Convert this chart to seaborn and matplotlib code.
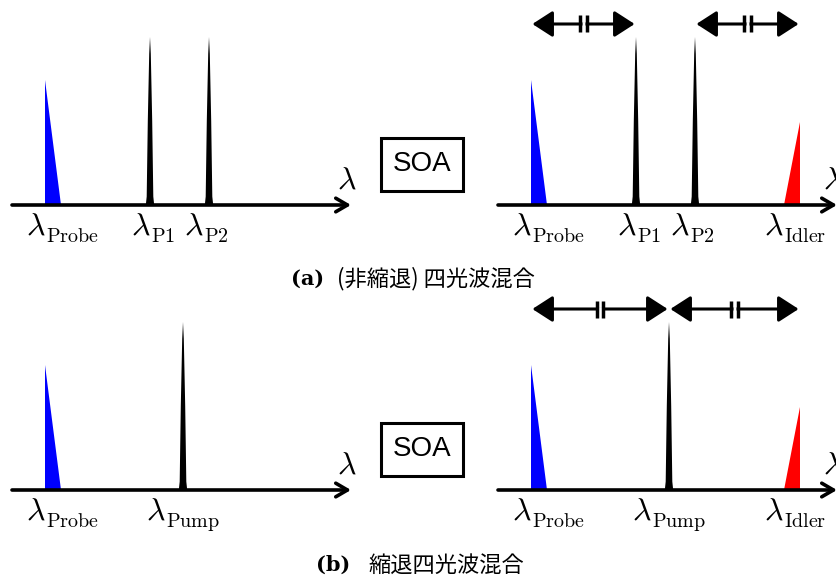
import matplotlib
matplotlib.use("Agg")
import matplotlib.pyplot as plt
import seaborn as sns

# --- spectra before / after the SOA (position on the wavelength axis, peak power) ---
fwm_in_names = ["Probe", "P1", "P2"]
fwm_in_wl = [0.33, 1.38, 1.97]
fwm_in_pw = [1.25, 1.68, 1.68]

fwm_out_names = ["Probe", "P1", "P2", "Idler"]
fwm_out_wl = [0.33, 1.38, 1.97, 3.02]
fwm_out_pw = [1.25, 1.68, 1.68, 0.83]

dfwm_in_names = ["Probe", "Pump"]
dfwm_in_wl = [0.33, 1.71]
dfwm_in_pw = [1.25, 1.68]

dfwm_out_names = ["Probe", "Pump", "Idler"]
dfwm_out_wl = [0.33, 1.71, 3.02]
dfwm_out_pw = [1.25, 1.68, 0.83]

# pairs of peaks with equal spacing
fwm_spacing = [("Probe", "P1"), ("P2", "Idler")]
dfwm_spacing = [("Probe", "Pump"), ("Pump", "Idler")]

captions = ["(非縮退) 四光波混合", "縮退四光波混合"]
caption_tags = ["(a)", "(b)"]

sns.set_theme(style="white")
plt.rcParams["mathtext.fontset"] = "cm"
plt.rcParams["text.color"] = "black"
plt.rcParams["font.family"] = ["Noto Sans CJK JP", "DejaVu Sans"]

colors = {"Probe": "#0000ff", "Idler": "#ff0000"}
label_shift = {"Probe": 0.17, "P1": 0.03, "P2": -0.03, "Pump": 0.0, "Idler": -0.055}
AX_LEN = 3.39
ARROW_Y = 1.81
LAM_SIZE = 23
SUB_SIZE = 14.5

W, H = 837, 580
fig = plt.figure(figsize=(W / 100, H / 100), dpi=100)
renderer = fig.canvas.get_renderer()


def draw_peak(ax, name, x, h):
    if name == "Probe":
        ax.fill([x, x, x + 0.16], [0, h, 0], color=colors[name], lw=0, zorder=2)
    elif name == "Idler":
        ax.fill([x - 0.16, x, x], [0, h, 0], color=colors[name], lw=0, zorder=2)
    else:
        fr = [0, 0.05, 0.5, 0.9, 1.0]
        hw = [0.042, 0.033, 0.022, 0.008, 0.0]
        xs = [x - w for w in hw] + [x + w for w in hw[::-1]]
        ys = [f * h for f in fr] + [f * h for f in fr[::-1]]
        ax.fill(xs, ys, color="black", lw=0, zorder=2)


def lambda_label(ax, xc, name):
    # big lambda + smaller roman subscript, centred on xc (1 unit = 100 px)
    t1 = ax.text(0, -0.295, r"$\lambda$", ha="left", va="baseline", fontsize=LAM_SIZE)
    t2 = ax.text(0, -0.37, r"$\mathrm{%s}$" % name, ha="left", va="baseline",
                 fontsize=SUB_SIZE)
    w1 = t1.get_window_extent(renderer).width / 100
    w2 = t2.get_window_extent(renderer).width / 100
    x0 = xc - (w1 + w2) / 2
    t1.set_x(x0)
    t2.set_x(x0 + w1 + 0.005)


def draw_spectrum(ax, names, wl, pw, spacing=None, soa=False):
    ax.set_xlim(0, 3.4)
    ax.set_ylim(0, 1.95)
    ax.set_axis_off()
    for n, x, h in zip(names, wl, pw):
        draw_peak(ax, n, x, h)
        lambda_label(ax, x + label_shift[n], n)
    # wavelength axis
    ax.annotate("", xy=(AX_LEN, 0), xytext=(0, 0), annotation_clip=False,
                arrowprops=dict(arrowstyle="->,head_length=0.6,head_width=0.35",
                                lw=2.6, color="black", shrinkA=0, shrinkB=0,
                                mutation_scale=14), zorder=3)
    ax.text(3.35, 0.25, r"$\lambda$", ha="center", va="center", fontsize=LAM_SIZE)
    if spacing:
        pos = dict(zip(names, wl))
        for a, b in spacing:
            x1, x2 = pos[a], pos[b]
            ax.annotate("", xy=(x2, ARROW_Y), xytext=(x1, ARROW_Y), annotation_clip=False,
                        arrowprops=dict(arrowstyle="<|-|>,head_length=0.62,head_width=0.4",
                                        lw=2.2, color="black", shrinkA=1, shrinkB=1,
                                        mutation_scale=20))
            mid = (x1 + x2) / 2
            ax.plot([mid - 0.016, mid + 0.016], [ARROW_Y, ARROW_Y], color="white",
                    lw=3.5, solid_capstyle="butt", clip_on=False, zorder=4)
            for dx in (-0.031, 0.031):
                ax.plot([mid + dx, mid + dx], [ARROW_Y - 0.085, ARROW_Y + 0.085],
                        color="black", lw=2.5, solid_capstyle="butt", clip_on=False, zorder=5)
    if soa:
        ax.add_patch(plt.Rectangle((3.695, 0.145), 0.82, 0.53, fill=False, lw=2.2,
                                   edgecolor="black", clip_on=False))
        ax.text(4.105, 0.41, "SOA", ha="center", va="center", fontsize=20,
                family="Liberation Sans")


def add_ax(x0, base):
    return fig.add_axes([x0 / W, (H - base) / H, 340 / W, 195 / H])


draw_spectrum(add_ax(12, 205), fwm_in_names, fwm_in_wl, fwm_in_pw, soa=True)
draw_spectrum(add_ax(498, 205), fwm_out_names, fwm_out_wl, fwm_out_pw, spacing=fwm_spacing)
draw_spectrum(add_ax(12, 490), dfwm_in_names, dfwm_in_wl, dfwm_in_pw, soa=True)
draw_spectrum(add_ax(498, 490), dfwm_out_names, dfwm_out_wl, dfwm_out_pw, spacing=dfwm_spacing)

# sub-captions
for tag, cap, xr, xl, yc in zip(caption_tags, captions, [324, 350], [337, 368], [279, 565]):
    fig.text(xr / W, (H - yc) / H, tag, ha="right", va="center", fontsize=15,
             family="DejaVu Serif", weight="bold")
    fig.text(xl / W, (H - yc) / H, cap, ha="left", va="center", fontsize=16)

fig.savefig("out.png", dpi=100, facecolor="white")
